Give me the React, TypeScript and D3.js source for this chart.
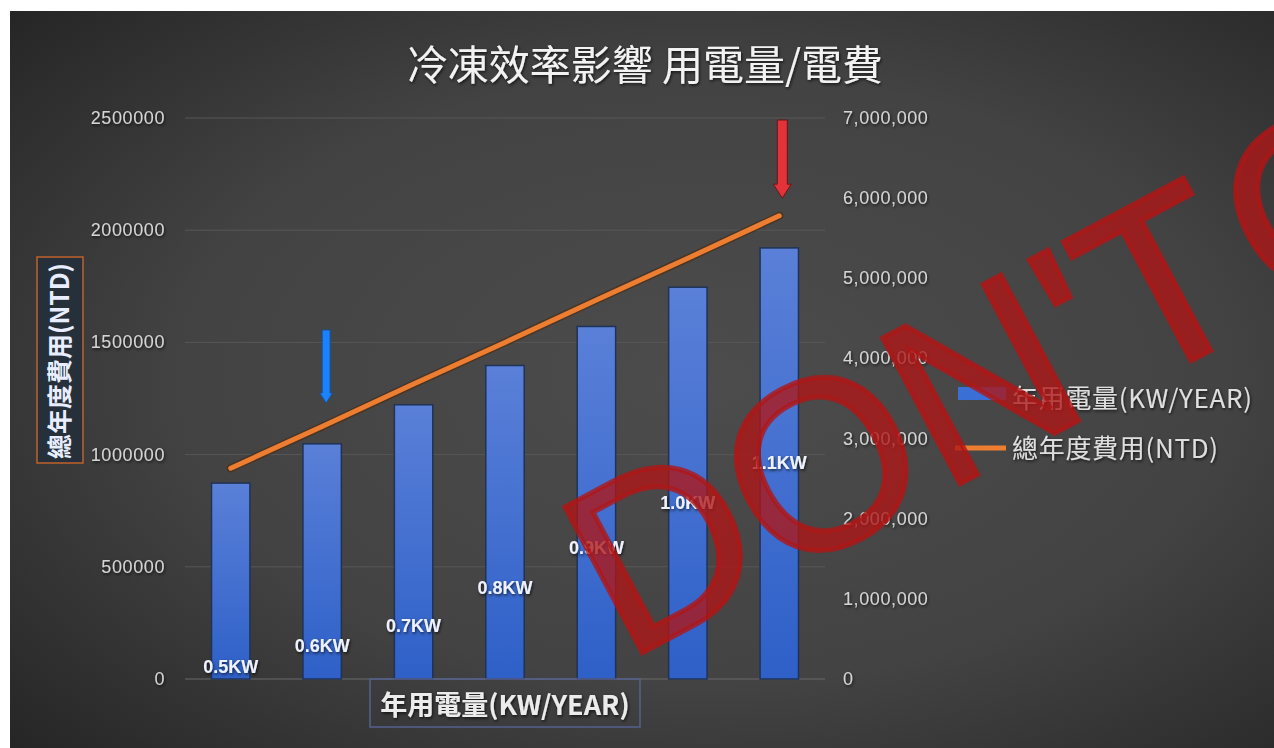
import React from 'react';
import * as d3 from 'd3';

const categories = ['0.5KW', '0.6KW', '0.7KW', '0.8KW', '0.9KW', '1.0KW', '1.1KW'];
const usage = [873000, 1048000, 1222000, 1397000, 1571000, 1746000, 1921000];
const cost = [2630000, 3150000, 3680000, 4200000, 4730000, 5250000, 5780000];
const labelAnchors = [53000, 147000, 236000, 405000, 584000, 784000, 963000];
const leftTicks = [0, 500000, 1000000, 1500000, 2000000, 2500000];
const rightTicks = [0, 1000000, 2000000, 3000000, 4000000, 5000000, 6000000, 7000000];
const arrowCats = ['0.6KW', '1.1KW'];
const arrowFrom = [4355000, 6975000];
const arrowTo = [3444000, 6000000];

const title = '冷凍效率影響 用電量/電費';
const leftTitle = '總年度費用(NTD)';
const bottomTitle = '年用電量(KW/YEAR)';
const seriesNames = ['年用電量(KW/YEAR)', '總年度費用(NTD)'];

const W = 1274;
const H = 748;

export default function App() {
  const x = d3.scaleBand<string>().domain(categories).range([185, 825]).paddingInner(0.58).paddingOuter(0.29);
  const yL = d3.scaleLinear().domain([0, 2500000]).range([679, 118]);
  const yR = d3.scaleLinear().domain([0, 7000000]).range([679, 118]);
  const cx = (c: string) => (x(c) as number) + x.bandwidth() / 2;
  const line = d3.line<number>().x((_, i) => cx(categories[i])).y((d) => yR(d));
  const fmtL = d3.format('d');
  const fmtR = d3.format(',');
  const tickFont = '"Liberation Sans", Arial, sans-serif';
  const cjk = '"Noto Sans CJK TC", "Noto Sans CJK SC", sans-serif';

  const arrowPath = (c: number, y0: number, y1: number, w: number, hw: number, hl: number) =>
    `M${c - w / 2},${y0}L${c + w / 2},${y0}L${c + w / 2},${y1 - hl}L${c + hw / 2},${y1 - hl}L${c},${y1}L${c - hw / 2},${y1 - hl}L${c - w / 2},${y1 - hl}Z`;

  return (
    <svg width={W} height={H} style={{ position: 'absolute', left: 0, top: 0 }}>
      <defs>
        <radialGradient id="bg" cx="0.55" cy="0.5" r="0.75">
          <stop offset="0" stopColor="#4c4c4c" />
          <stop offset="0.55" stopColor="#434343" />
          <stop offset="1" stopColor="#252525" />
        </radialGradient>
        <linearGradient id="bar" x1="0" y1="0" x2="0" y2="1">
          <stop offset="0" stopColor="#5a80d8" />
          <stop offset="1" stopColor="#2e60c8" />
        </linearGradient>
        <filter id="shadow" x="-20%" y="-20%" width="140%" height="140%">
          <feDropShadow dx="1" dy="1.5" stdDeviation="1.5" floodColor="#000" floodOpacity="0.7" />
        </filter>
        <clipPath id="panelClip">
          <rect x={10} y={11} width={W - 10} height={H - 11} />
        </clipPath>
      </defs>
      <rect x={0} y={0} width={W} height={H} fill="#ffffff" />
      <rect x={10} y={11} width={W - 10} height={H - 11} fill="url(#bg)" />

      {/* grid */}
      {leftTicks.map((t) => (
        <line key={'g' + t} x1={185} x2={825} y1={yL(t)} y2={yL(t)} stroke={t === 0 ? '#6a6a6a' : '#575757'} strokeWidth={1} />
      ))}

      {/* left ticks */}
      {leftTicks.map((t) => (
        <text key={'l' + t} x={165} y={yL(t) + 6} textAnchor="end" fontFamily={tickFont} fontSize={18} letterSpacing={0.6} fill="#d4d4d4" filter="url(#shadow)">
          {fmtL(t)}
        </text>
      ))}
      {/* right ticks */}
      {rightTicks.map((t) => (
        <text key={'r' + t} x={843} y={yR(t) + 6} textAnchor="start" fontFamily={tickFont} fontSize={18} letterSpacing={0.6} fill="#d4d4d4" filter="url(#shadow)">
          {fmtR(t)}
        </text>
      ))}

      {/* bars */}
      {usage.map((v, i) => (
        <rect key={'b' + i} x={x(categories[i])} y={yL(v)} width={x.bandwidth()} height={yL(0) - yL(v)} fill="url(#bar)" stroke="#1f3358" strokeWidth={1.5} />
      ))}

      {/* line */}
      <path d={line(cost) || ''} fill="none" stroke="#4a2a10" strokeOpacity={0.6} strokeWidth={8} strokeLinecap="round" />
      <path d={line(cost) || ''} fill="none" stroke="#ed7d31" strokeWidth={5} strokeLinecap="round" />

      {/* bar labels */}
      {categories.map((c, i) => (
        <text key={'bl' + i} x={cx(c)} y={yL(labelAnchors[i]) + 6} textAnchor="middle" fontFamily={tickFont} fontWeight="bold" fontSize={18} fill="#eef2ff" filter="url(#shadow)">
          {c}
        </text>
      ))}

      {/* arrows */}
      {arrowCats.map((c, i) => {
        const big = i === 1;
        return (
          <path
            key={'a' + i}
            d={arrowPath(cx(c) + (big ? 3 : 4), yR(arrowFrom[i]), yR(arrowTo[i]), big ? 10 : 8, big ? 18 : 13, big ? 14 : 10)}
            fill={big ? '#e2333a' : '#1a82ff'}
            stroke={big ? '#6a1515' : '#1a4f90'}
            strokeWidth={1}
          />
        );
      })}

      {/* title */}
      <text x={645} y={80} textAnchor="middle" fontFamily={cjk} fontSize={41} fill="#f2f2f2" filter="url(#shadow)">
        {title}
      </text>

      {/* left axis title */}
      <rect x={37} y={257} width={46} height={206} fill="#26303a" stroke="#c0622a" strokeWidth={1.5} />
      <text transform="translate(69,361) rotate(-90)" textAnchor="middle" fontFamily={cjk} fontWeight="bold" fontSize={25} fill="#e8eeff">
        {leftTitle}
      </text>

      {/* bottom axis title */}
      <rect x={370} y={679} width={270} height={48} fill="none" stroke="#56608f" strokeWidth={1.5} />
      <text x={505} y={715} textAnchor="middle" fontFamily={cjk} fontWeight="bold" fontSize={27} fill="#ececec" filter="url(#shadow)">
        {bottomTitle}
      </text>

      {/* legend */}
      <rect x={958} y={387} width={48} height={13} fill="#3a6fd6" />
      <text x={1012} y={408} fontFamily={cjk} fontSize={26} letterSpacing={0.7} fill="#dedede" filter="url(#shadow)">
        {seriesNames[0]}
      </text>
      <line x1={955} x2={1006} y1={448} y2={448} stroke="#ed7d31" strokeWidth={5} />
      <text x={1012} y={458} fontFamily={cjk} fontSize={26} letterSpacing={0.7} fill="#dedede" filter="url(#shadow)">
        {seriesNames[1]}
      </text>

      {/* watermark */}
      <g clipPath="url(#panelClip)">
        <text transform="translate(625,662) rotate(-28)" fontFamily={tickFont} fontSize={240} wordSpacing={-50} fill="#b01616" fillOpacity={0.78} stroke="#b01616" strokeOpacity={0.78} strokeWidth={5} paintOrder="stroke">
          DON'T COPY
        </text>
      </g>
    </svg>
  );
}
